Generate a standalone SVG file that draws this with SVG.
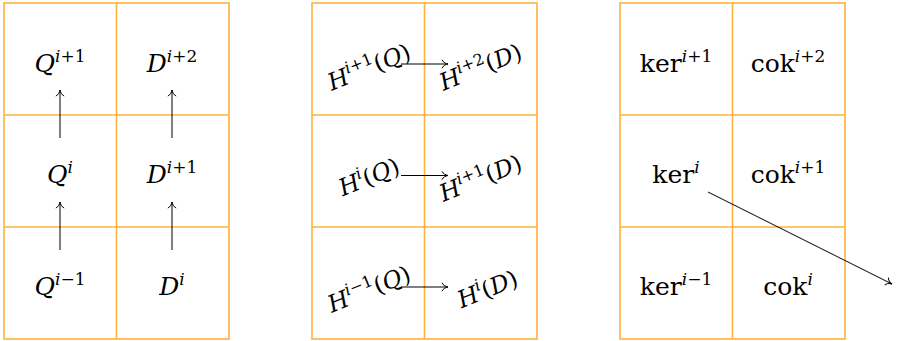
<svg xmlns="http://www.w3.org/2000/svg" width="897" height="341" viewBox="0 0 897 341">
<style>
.grid{fill:none;stroke:#FFB13B;stroke-width:1.6}
text{font-family:'DejaVu Serif','Liberation Serif',serif;font-size:25px;fill:#000;text-anchor:middle}
.r text{font-size:23.5px}
.v{font-style:italic}
.s{font-size:17px}
.si{font-size:17px;font-style:italic}
.r .s,.r .si{font-size:16px}
.edge{fill:none;stroke:#000;stroke-width:1}
</style>
<defs>
<marker id="arr" markerUnits="userSpaceOnUse" markerWidth="14" markerHeight="14" viewBox="-8 -7 10 14" refX="0" refY="0" orient="auto">
<path d="M -6 -4.2 C -5.2 -1.8 -2 -0.4 0 0 C -2 0.4 -5.2 1.8 -6 4.2" fill="none" stroke="#000" stroke-width="1"/>
</marker>
<g id="gridshape">
<rect x="0" y="0" width="225" height="336"/>
<line x1="112.5" y1="0" x2="112.5" y2="336"/>
<line x1="0" y1="112" x2="225" y2="112"/>
<line x1="0" y1="224" x2="225" y2="224"/>
</g>
</defs>
<g id="grids" class="grid">
<use href="#gridshape" transform="translate(4,3)"/>
<use href="#gridshape" transform="translate(312,3)"/>
<use href="#gridshape" transform="translate(620,3)"/>
</g>
<g id="connectors" class="edge">
<line x1="60" y1="138" x2="60" y2="90" marker-end="url(#arr)"/>
<line x1="60" y1="250" x2="60" y2="202" marker-end="url(#arr)"/>
<line x1="172" y1="138" x2="172" y2="90" marker-end="url(#arr)"/>
<line x1="172" y1="250" x2="172" y2="202" marker-end="url(#arr)"/>
<line x1="401" y1="64" x2="448" y2="64" marker-end="url(#arr)"/>
<line x1="401" y1="175.5" x2="448" y2="175.5" marker-end="url(#arr)"/>
<line x1="401" y1="287" x2="448" y2="287" marker-end="url(#arr)"/>
<line x1="708" y1="192" x2="892" y2="284" marker-end="url(#arr)"/>
</g>
<g id="Q-ip1"><text x="60" y="72"><tspan class="v">Q</tspan><tspan class="si" dy="-10">i</tspan><tspan class="s">+1</tspan></text></g>
<g id="D-ip2"><text x="172" y="72"><tspan class="v">D</tspan><tspan class="si" dy="-10">i</tspan><tspan class="s">+2</tspan></text></g>
<g id="Q-i"><text x="60" y="183"><tspan class="v">Q</tspan><tspan class="si" dy="-10">i</tspan></text></g>
<g id="D-ip1"><text x="172" y="183"><tspan class="v">D</tspan><tspan class="si" dy="-10">i</tspan><tspan class="s">+1</tspan></text></g>
<g id="Q-im1"><text x="60" y="295"><tspan class="v">Q</tspan><tspan class="si" dy="-10">i</tspan><tspan class="s">−1</tspan></text></g>
<g id="D-i"><text x="172" y="295"><tspan class="v">D</tspan><tspan class="si" dy="-10">i</tspan></text></g>
<g class="r">
<g id="HQ-ip1" transform="translate(369.5,68) rotate(-22)"><text x="0" y="7"><tspan class="v">H</tspan><tspan class="si" dy="-10">i</tspan><tspan class="s">+1</tspan><tspan dy="10">(</tspan><tspan class="v">Q</tspan>)</text></g>
<g id="HD-ip2" transform="translate(481,68) rotate(-22)"><text x="0" y="7"><tspan class="v">H</tspan><tspan class="si" dy="-10">i</tspan><tspan class="s">+2</tspan><tspan dy="10">(</tspan><tspan class="v">D</tspan>)</text></g>
<g id="HQ-i" transform="translate(369.5,178) rotate(-22)"><text x="0" y="7"><tspan class="v">H</tspan><tspan class="si" dy="-10">i</tspan><tspan dy="10">(</tspan><tspan class="v">Q</tspan>)</text></g>
<g id="HD-ip1" transform="translate(481,179) rotate(-22)"><text x="0" y="7"><tspan class="v">H</tspan><tspan class="si" dy="-10">i</tspan><tspan class="s">+1</tspan><tspan dy="10">(</tspan><tspan class="v">D</tspan>)</text></g>
<g id="HQ-im1" transform="translate(369.5,290) rotate(-22)"><text x="0" y="7"><tspan class="v">H</tspan><tspan class="si" dy="-10">i</tspan><tspan class="s">−1</tspan><tspan dy="10">(</tspan><tspan class="v">Q</tspan>)</text></g>
<g id="HD-i" transform="translate(488,290) rotate(-22)"><text x="0" y="7"><tspan class="v">H</tspan><tspan class="si" dy="-10">i</tspan><tspan dy="10">(</tspan><tspan class="v">D</tspan>)</text></g>
</g>
<g id="ker-ip1"><text x="676" y="72">ker<tspan class="si" dy="-10">i</tspan><tspan class="s">+1</tspan></text></g>
<g id="cok-ip2"><text x="788" y="72">cok<tspan class="si" dy="-10">i</tspan><tspan class="s">+2</tspan></text></g>
<g id="ker-i"><text x="676" y="183">ker<tspan class="si" dy="-10">i</tspan></text></g>
<g id="cok-ip1"><text x="788" y="183">cok<tspan class="si" dy="-10">i</tspan><tspan class="s">+1</tspan></text></g>
<g id="ker-im1"><text x="676" y="295">ker<tspan class="si" dy="-10">i</tspan><tspan class="s">−1</tspan></text></g>
<g id="cok-i"><text x="788" y="295">cok<tspan class="si" dy="-10">i</tspan></text></g>
</svg>
